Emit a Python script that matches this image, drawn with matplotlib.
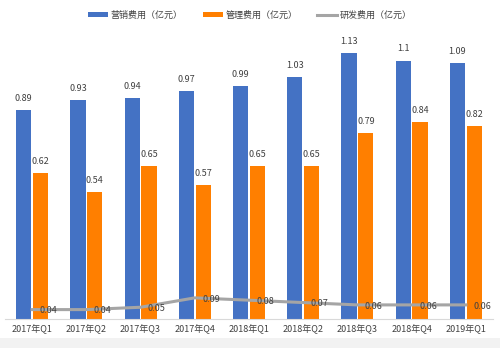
import matplotlib
matplotlib.use('Agg')
import matplotlib.pyplot as plt
import numpy as np
from matplotlib.patches import Rectangle

plt.rcParams['font.family'] = ['Noto Sans CJK SC', 'DejaVu Sans']

# 数据
quarters = ['2017年Q1', '2017年Q2', '2017年Q3', '2017年Q4', '2018年Q1',
            '2018年Q2', '2018年Q3', '2018年Q4', '2019年Q1']
marketing = [0.89, 0.93, 0.94, 0.97, 0.99, 1.03, 1.13, 1.1, 1.09]
management = [0.62, 0.54, 0.65, 0.57, 0.65, 0.65, 0.79, 0.84, 0.82]
rnd = [0.04, 0.04, 0.05, 0.09, 0.08, 0.07, 0.06, 0.06, 0.06]
marketing_labels = ['0.89', '0.93', '0.94', '0.97', '0.99', '1.03', '1.13', '1.1', '1.09']

blue = '#4472C4'
orange = '#FF7F00'
gray = '#A5A5A5'
txt = '#404040'

fig = plt.figure(figsize=(5, 3.48), dpi=100)
fig.patches.append(Rectangle((0, 0), 1, 10 / 348, transform=fig.transFigure,
                             facecolor='#F2F2F2', edgecolor='none', zorder=0))

ax = fig.add_axes([5 / 500, 29 / 348, 488 / 500, 282 / 348])
x = np.arange(len(quarters))
w = 0.28
off = 0.155

b1 = ax.bar(x - off, marketing, w, color=blue, label='营销费用（亿元）', zorder=2)
b2 = ax.bar(x + off, management, w, color=orange, label='管理费用（亿元）', zorder=2)
ln, = ax.plot(x, rnd, color=gray, linewidth=2.2, label='研发费用（亿元）', zorder=3)

for xi, v, s in zip(x, marketing, marketing_labels):
    ax.text(xi - off, v + 0.03, s, ha='center', va='bottom', fontsize=6.5, color=txt)
for xi, v in zip(x, management):
    ax.text(xi + off, v + 0.03, '{:.2f}'.format(v), ha='center', va='bottom', fontsize=6.5, color=txt)
for xi, v in zip(x, rnd):
    ax.text(xi + 0.3, v - 0.005, '{:.2f}'.format(v), ha='center', va='center', fontsize=6.5, color=txt, zorder=4)

ax.set_xlim(-0.5, len(quarters) - 0.5)
ax.set_ylim(0, 1.2)
ax.set_yticks([])
ax.set_xticks(x)
ax.set_xticklabels(quarters, fontsize=6.5, color=txt)
ax.tick_params(axis='x', length=0, pad=4)
for side in ['top', 'right', 'left']:
    ax.spines[side].set_visible(False)
ax.spines['bottom'].set_color('#D9D9D9')
ax.spines['bottom'].set_linewidth(0.8)

fig.legend(handles=[b1, b2, ln], loc='center', bbox_to_anchor=(0.5, 15 / 348 * -1 + 1),
           ncol=3, frameon=False, fontsize=6.5, handlelength=2.2, handleheight=0.5,
           columnspacing=2.2, handletextpad=0.3, labelcolor=txt)

fig.savefig('out.png', dpi=100)
